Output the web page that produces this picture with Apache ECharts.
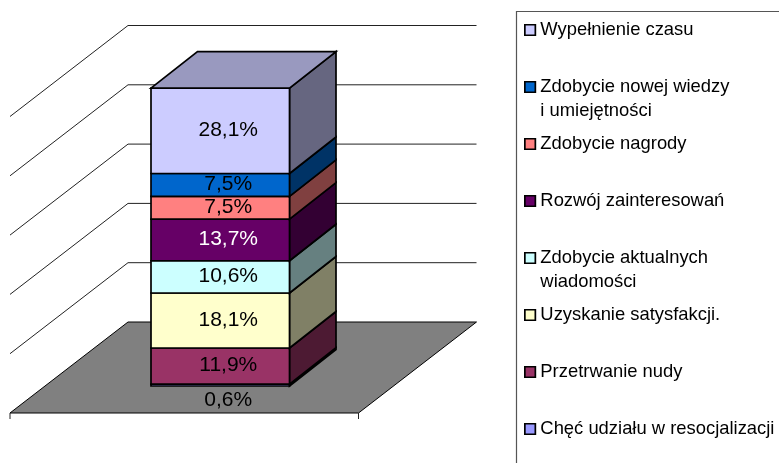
<!DOCTYPE html>
<html><head><meta charset="utf-8">
<style>html,body{margin:0;padding:0;background:#fff}#c{width:779px;height:463px}</style>
<script src="https://cdn.jsdelivr.net/npm/echarts@6/dist/echarts.min.js"></script>
</head><body><div id="c"></div>
<script>
const categories = ["Wypełnienie czasu","Zdobycie nowej wiedzy i umiejętności","Zdobycie nagrody","Rozwój zainteresowań","Zdobycie aktualnych wiadomości","Uzyskanie satysfakcji.","Przetrwanie nudy","Chęć udziału w resocjalizacji"];
const legendLines = [["Wypełnienie czasu"],["Zdobycie nowej wiedzy","i umiejętności"],["Zdobycie nagrody"],["Rozwój zainteresowań"],["Zdobycie aktualnych","wiadomości"],["Uzyskanie satysfakcji."],["Przetrwanie nudy"],["Chęć udziału w resocjalizacji"]];
const values = [28.1,7.5,7.5,13.7,10.6,18.1,11.9,0.6];
const colors = ["#CCCCFF","#0066CC","#FF8080","#660066","#CCFFFF","#FFFFCC","#993366","#9999FF"];
const labelColors = ["#000","#000","#000","#fff","#000","#000","#000","#000"];
const wallTicks = [0,20,40,60,80,100];

const barDepth = [46.5,-36.5];
const floorDepth = [-118,91];
const shade = (hex,f)=>{const n=parseInt(hex.slice(1),16);return 'rgb('+[n>>16,(n>>8)&255,n&255].map(c=>Math.round(c*f)).join(',')+')';};
const poly = (pts,fill,stroke,lw)=>({type:'polygon',shape:{points:pts},style:{fill:fill,stroke:stroke,lineWidth:lw}});

// cumulative bases, bottom to top
const order = values.map((v,i)=>i).reverse();
const bases = {}; let acc = 0;
order.forEach(i=>{bases[i]=acc;acc+=values[i];});

const barSeries = order.map((i,k)=>({
  type:'custom', name:categories[i], xAxisIndex:0, yAxisIndex:0, clip:false, z:10+k,
  itemStyle:{color:colors[i]},
  data:[[bases[i],bases[i]+values[i]]],
  renderItem(params,api){
    const a=api.coord([0,api.value(0)]), b=api.coord([1,api.value(0)]),
          c=api.coord([1,api.value(1)]), d=api.coord([0,api.value(1)]);
    const off=p=>[p[0]+barDepth[0],p[1]+barDepth[1]];
    const kids=[
      poly([b,off(b),off(c),c],shade(colors[i],0.5),'#000',1.7),
      poly([a,b,c,d],colors[i],'#000',1.7)
    ];
    if(k===order.length-1) kids.push(poly([d,c,off(c),off(d)],shade(colors[i],0.75),'#000',1.7));
    const small = values[i]<1;
    kids.push({type:'text',z2:50,style:{
      text:(values[i]+'%').replace('.',','),
      x:(a[0]+b[0])/2+8,
      y:small?a[1]+14:(a[1]+d[1])/2-0.5,
      fill:labelColors[i],font:'21px "Liberation Sans", Arial, sans-serif',align:'center',verticalAlign:'middle'}});
    return {type:'group',children:kids};
  }
}));

const wallSeries = {
  type:'custom', silent:true, xAxisIndex:1, yAxisIndex:1, clip:false, z:2,
  data:wallTicks.map(t=>[t]),
  renderItem(params,api){
    const t=api.value(0), l=api.coord([0,t]), r=api.coord([1,t]);
    const lf=[l[0]+floorDepth[0],l[1]+floorDepth[1]], rf=[r[0]+floorDepth[0],r[1]+floorDepth[1]];
    const line=(p,q)=>({type:'line',shape:{x1:p[0],y1:p[1],x2:q[0],y2:q[1]},style:{stroke:'#222',lineWidth:1}});
    if(t===0){
      return {type:'group',children:[
        poly([l,r,rf,lf],'#808080','#000',1),
        line(lf,[lf[0],lf[1]+6]), line(rf,[rf[0],rf[1]+6])
      ]};
    }
    return {type:'group',children:[line(l,r),line(l,lf)]};
  }
};

const chart = echarts.init(document.getElementById('c'),null,{renderer:'canvas'});
chart.setOption({
  animation:false,
  backgroundColor:'#fff',
  grid:[
    {left:151,width:138.5,top:82,height:304},
    {left:128,width:348.5,top:25.5,height:296.5}
  ],
  xAxis:[
    {type:'value',gridIndex:0,min:0,max:1,show:false},
    {type:'value',gridIndex:1,min:0,max:1,show:false}
  ],
  yAxis:[
    {type:'value',gridIndex:0,min:0,max:100,show:false},
    {type:'value',gridIndex:1,min:0,max:100,interval:20,show:false}
  ],
  legend:{
    orient:'vertical', left:524, top:-6, height:600, itemGap:-15, itemWidth:10.5, itemHeight:10.5,
    padding:0, selectedMode:false,
    data:categories.map((n,i)=>({name:n,icon:'rect',itemStyle:{color:colors[i],borderColor:'#000',borderWidth:1.7}})),
    textStyle:{fontFamily:'"Liberation Sans", Arial, sans-serif',fontSize:18.4,lineHeight:24,color:'#000'},
    formatter:n=>{const l=legendLines[categories.indexOf(n)];return '\n'+l[0]+'\n'+(l[1]||' ');}
  },
  graphic:[{type:'polyline',z:1,silent:true,shape:{points:[[779,11.5],[516.5,11.5],[516.5,463]]},style:{fill:null,stroke:'#555',lineWidth:1.2}}],
  series:[wallSeries].concat(barSeries)
});
</script></body></html>
